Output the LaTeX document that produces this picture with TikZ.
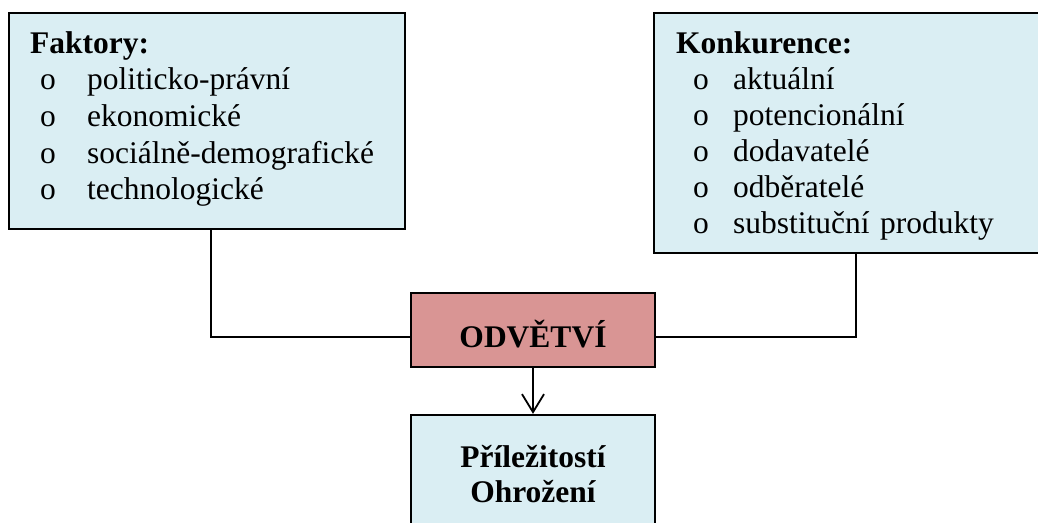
\documentclass[tikz,border=0pt]{standalone}
\usepackage{fontspec}
\setmainfont{Liberation Serif}
\usetikzlibrary{arrows.meta}
\definecolor{boxblue}{HTML}{DAEEF3}
\definecolor{boxred}{HTML}{D99594}
\begin{document}
\begin{tikzpicture}[x=1pt,y=-1pt,
  box/.style={draw=black, line width=2.3pt, rectangle, inner sep=0pt},
  conn/.style={draw=black, line width=1.8pt},
  listtext/.style={anchor=base west, inner sep=0pt, align=left, text width=380pt},
  boldtext/.style={font=\fontsize{31.5}{35}\selectfont\bfseries}
]
\useasboundingbox (0,0) rectangle (1038,522);
\begin{scope}
\clip (0,0) rectangle (1038,522);
% left box
\node[box, fill=boxblue, minimum width=396pt, minimum height=216pt] (fak) at (207,121) {};
\node[listtext, font=\fontsize{31.5}{36.7}\selectfont] (faktxt) at (30,53) {\textbf{Faktory:}\\
\hspace*{10pt}\makebox[47pt][l]{o}politicko-právní\\
\hspace*{10pt}\makebox[47pt][l]{o}ekonomické\\
\hspace*{10pt}\makebox[47pt][l]{o}sociálně-demografické\\
\hspace*{10pt}\makebox[47pt][l]{o}technologické};
% right box
\node[box, fill=boxblue, minimum width=396pt, minimum height=240pt] (kon) at (852,133) {};
\node[listtext, font=\fontsize{31.5}{36}\selectfont] (kontxt) at (676,53) {\textbf{Konkurence:}\\
\hspace*{17pt}\makebox[40pt][l]{o}aktuální\\
\hspace*{17pt}\makebox[40pt][l]{o}potencionální\\
\hspace*{17pt}\makebox[40pt][l]{o}dodavatelé\\
\hspace*{17pt}\makebox[40pt][l]{o}odběratelé\\
\hspace*{17pt}\makebox[40pt][l]{o}substituční produkty};
% centre box
\node[box, fill=boxred, minimum width=244pt, minimum height=74pt, boldtext] (odv) at (533,330) {\raisebox{-17pt}[0pt][0pt]{ODVĚTVÍ}};
% bottom box
\node[box, fill=boxblue, minimum width=244pt, minimum height=118pt, boldtext, align=center] (opp) at (533,474) {Příležitostí\\Ohrožení};
% connectors
\coordinate (c1) at (211,337);
\coordinate (c2) at (856,337);
\draw[conn] (fak.south -| c1) -- (c1) -- (odv.west |- c1);
\draw[conn] (kon.south -| c2) -- (c2) -- (odv.east |- c2);
\draw[conn, -{Straight Barb[length=18pt,width=22pt,line width=1.8pt]}] (odv.south) -- (opp.north);
\end{scope}
\end{tikzpicture}
\end{document}
